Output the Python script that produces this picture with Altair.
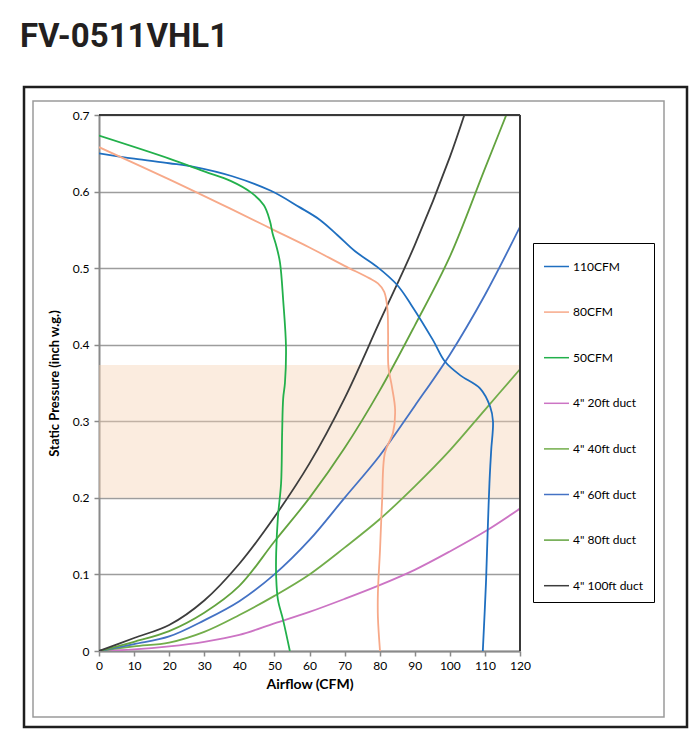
import altair as alt
import pandas as pd

# ---- data ----
series_names = ["110CFM", "80CFM", "50CFM", "4\" 20ft duct", "4\" 40ft duct",
                "4\" 60ft duct", "4\" 80ft duct", "4\" 100ft duct"]
series_colors = ["#1f6fc0", "#f7a989", "#22b04b", "#cc74c4", "#72ad4a",
                 "#4472c4", "#63a33f", "#3d3d3d"]

fan110_x = [0, 10, 20, 27.4, 38, 49, 57, 63, 68, 73, 79.2, 85, 89, 95.2, 98.6, 103,
            108.6, 111.5, 112.3, 111.8, 111.4, 111.1, 110.8, 110.3, 109.4]
fan110_y = [0.650, 0.643, 0.637, 0.632, 0.620, 0.601, 0.580, 0.563, 0.543, 0.522,
            0.502, 0.478, 0.452, 0.406, 0.378, 0.360, 0.343, 0.319, 0.300, 0.263,
            0.230, 0.197, 0.158, 0.089, 0.0]

fan80_x = [0, 20, 37.3, 49.3, 60, 70, 77, 79.5, 81.3, 82.2, 82.4, 82.5, 83.5,
           84.4, 83.8, 81.5, 80.7, 80.1, 79.5, 79.5, 80.1]
fan80_y = [0.658, 0.616, 0.578, 0.551, 0.527, 0.503, 0.487, 0.480, 0.469, 0.447,
           0.415, 0.371, 0.345, 0.315, 0.285, 0.259, 0.197, 0.132, 0.076, 0.044, 0.0]

fan50_x = [0, 20, 30.2, 37.5, 43.6, 47, 48.7, 49.5, 50.6, 51.6, 52.5, 53.3, 53,
           52.5, 52.2, 51.9, 51, 50.5, 50.5, 51, 52.5, 54.4]
fan50_y = [0.673, 0.643, 0.626, 0.614, 0.598, 0.582, 0.562, 0.545, 0.528, 0.507,
           0.458, 0.397, 0.35, 0.33, 0.285, 0.219, 0.175, 0.128, 0.097, 0.067,
           0.040, 0.0]

duct_x = [0, 10, 20, 30, 40, 50, 60, 70, 80, 90, 100, 110, 120]
duct20_y = [0, 0.002, 0.006, 0.012, 0.021, 0.036, 0.051, 0.068, 0.086, 0.106, 0.13, 0.156, 0.186]
duct40_y = [0, 0.006, 0.011, 0.025, 0.047, 0.072, 0.1, 0.135, 0.172, 0.215, 0.262, 0.315, 0.368]
duct60_y = [0, 0.009, 0.019, 0.04, 0.065, 0.1, 0.145, 0.2, 0.255, 0.32, 0.387, 0.465, 0.554]
duct80_y = [0, 0.012, 0.026, 0.05, 0.085, 0.143, 0.2, 0.265, 0.34, 0.425, 0.515, 0.63, 0.745]
duct100_y = [0, 0.017, 0.034, 0.066, 0.114, 0.175, 0.245, 0.33, 0.43, 0.53, 0.645, 0.78, 0.9]

band_low, band_high = 0.2, 0.3735
x_ticks = [0, 10, 20, 30, 40, 50, 60, 70, 80, 90, 100, 110, 120]
y_ticks = [0, 0.1, 0.2, 0.3, 0.4, 0.5, 0.6, 0.7]

# ---- build table ----
rows = []
def add(name, xs, ys):
    for i, (a, b) in enumerate(zip(xs, ys)):
        rows.append({"series": name, "x": a, "y": b, "o": i})

add(series_names[3], duct_x, duct20_y)
add(series_names[4], duct_x, duct40_y)
add(series_names[5], duct_x, duct60_y)
add(series_names[6], duct_x, duct80_y)
add(series_names[7], duct_x, duct100_y)
add(series_names[0], fan110_x, fan110_y)
add(series_names[1], fan80_x, fan80_y)
add(series_names[2], fan50_x, fan50_y)
df = pd.DataFrame(rows)

W, H = 421, 536
FONT = "Lato"

xscale = alt.Scale(domain=[0, 120], nice=False, zero=False)
yscale = alt.Scale(domain=[0, 0.7], nice=False)

xaxis = alt.Axis(values=x_ticks, tickCount=13, grid=False, title="Airflow (CFM)",
                 domainColor="#8a8a8a", domainWidth=2, tickColor="#8a8a8a",
                 tickSize=5, tickWidth=1.5, labelFont=FONT, labelFontSize=12,
                 labelColor="black", labelPadding=4, labelOverlap=False,
                 labelSeparation=0, labelBound=False,
                 titleFont=FONT, titleFontSize=14, titleFontWeight="bold",
                 titleColor="black", titlePadding=6, labelFlush=False)
yaxis = alt.Axis(values=y_ticks, grid=True, gridColor="#9d9d9d", gridWidth=1.5,
                 format=".1~f", title="Static Pressure (inch w.g.)",
                 domainColor="#8a8a8a", domainWidth=2, tickColor="#8a8a8a",
                 tickSize=5, tickWidth=1.5, labelFont=FONT, labelFontSize=12,
                 labelColor="black", labelPadding=5, labelOverlap=False,
                 titleFont=FONT, titleFontSize=13, titleFontWeight="bold",
                 titleColor="black", titlePadding=11, labelFlush=False)

one = alt.Data(values=[{"a": 1}])

outer = alt.Chart(one).mark_rect(filled=False, stroke="#1e1e1e", strokeWidth=2.5).encode(
    x=alt.value(-75), x2=alt.value(588), y=alt.value(-28), y2=alt.value(612))
inner = alt.Chart(one).mark_rect(filled=False, stroke="#9a9a9a", strokeWidth=1.5).encode(
    x=alt.value(-66), x2=alt.value(565), y=alt.value(-14), y2=alt.value(602))

title = alt.Chart(one).mark_text(
    text="FV-0511VHL1", font="Roboto", fontSize=33, fontWeight="bold",
    color="#231f20", align="left", baseline="alphabetic").encode(
    x=alt.value(-79), y=alt.value(-68))

band = alt.Chart(pd.DataFrame({"x": [0], "x1": [120], "y": [band_low], "y1": [band_high]})).mark_rect(
    color="#f6cfae", opacity=0.4).encode(
    x=alt.X("x:Q", scale=xscale, axis=xaxis),
    x2="x1:Q",
    y=alt.Y("y:Q", scale=yscale, axis=yaxis),
    y2="y1:Q")

lines = alt.Chart(df).mark_line(interpolate="catmull-rom", strokeWidth=1.8, clip=True).encode(
    x=alt.X("x:Q", scale=xscale, axis=xaxis),
    y=alt.Y("y:Q", scale=yscale, axis=yaxis),
    order="o:Q",
    color=alt.Color("series:N",
                    scale=alt.Scale(domain=series_names, range=series_colors),
                    legend=alt.Legend(title=None, orient="none", legendX=434, legendY=128,
                                      symbolType="stroke", symbolSize=625,
                                      symbolStrokeWidth=1.5, labelFont=FONT,
                                      labelFontSize=12, labelColor="black",
                                      padding=10, rowPadding=25.6, labelOffset=3,
                                      strokeColor="black", fillColor="white")),
)

top_border = alt.Chart(one).mark_rule(color="#3a3a3a", strokeWidth=2).encode(
    x=alt.datum(0, scale=xscale), x2=alt.datum(120), y=alt.datum(0.7, scale=yscale))
right_border = alt.Chart(one).mark_rule(color="#3a3a3a", strokeWidth=2).encode(
    x=alt.datum(120, scale=xscale), y=alt.datum(0, scale=yscale), y2=alt.datum(0.7))

chart = alt.layer(outer, inner, band, lines, top_border, right_border, title).properties(
    width=W, height=H,
    autosize=alt.AutoSizeParams(type="none"),
    padding={"left": 99, "top": 115, "right": 177, "bottom": 83},
    background="white",
).configure_view(strokeWidth=0).configure_axis(labelOverlap=False)

chart.save("out.html", embed_options={"renderer": "svg", "actions": False})
